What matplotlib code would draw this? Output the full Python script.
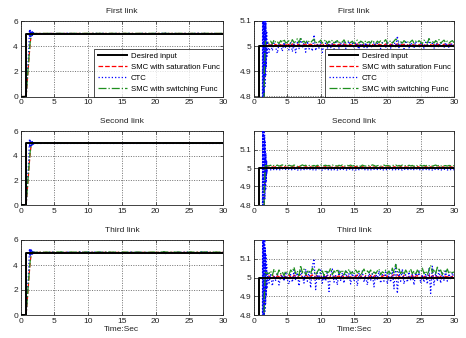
import numpy as np
import matplotlib
matplotlib.use("Agg")
import matplotlib.pyplot as plt

plt.rcParams['font.family'] = ['Liberation Sans', 'DejaVu Sans']

# ---------------- data ----------------
LINKS = ["First link", "Second link", "Third link"]
LEGEND = ["Desired input", "SMC with saturation Func", "CTC", "SMC with switching Func"]
XTICKS = [0, 5, 10, 15, 20, 25, 30]
LEFT_YTICKS = [0, 2, 4, 6]
RIGHT_YTICKS = [4.8, 4.9, 5.0, 5.1]
RIGHT_YTICKLABELS = ["4.8", "4.9", "5", "5.1"]
RIGHT_YTOP = [5.1, 5.2, 5.2]

desired_t = [0.0, 0.8, 0.8, 30.0]
desired_v = [0.0, 0.0, 5.0, 5.0]

# rise phase (time, value)
rise_t = [0.0, 0.8, 0.95, 1.1, 1.25, 1.4, 1.55, 1.7, 1.85, 2.0]
ctc_rise_t = [0.0, 0.8, 0.9, 1.0, 1.1, 1.2, 1.25, 1.3, 1.35, 1.4, 1.45,
              1.5, 1.55, 1.6, 1.65, 1.7, 1.75, 1.8, 1.85, 1.9, 1.95, 2.05]

sat_rise = [
    [0, 0, 1.0, 2.1, 3.2, 4.2, 4.85, 5.0, 5.01, 5.006],
    [0, 0, 1.0, 2.1, 3.2, 4.2, 4.85, 5.008, 5.006, 5.005],
    [0, 0, 1.0, 2.1, 3.2, 4.2, 4.85, 5.01, 5.008, 5.006],
]
sw_rise = [
    [0, 0, 1.1, 2.2, 3.3, 4.3, 4.9, 5.02, 5.015, 5.012],
    [0, 0, 1.1, 2.2, 3.3, 4.3, 4.9, 5.015, 5.012, 5.012],
    [0, 0, 1.1, 2.2, 3.3, 4.3, 4.9, 5.03, 5.02, 5.025],
]
ctc_rise = [
    [0, 0, 0.8, 1.8, 2.9, 3.8, 4.6, 5.3, 4.72, 5.26, 4.76, 5.22, 4.8, 5.18,
     4.84, 5.14, 4.88, 5.1, 4.92, 5.06, 4.96, 5.02],
    [0, 0, 0.8, 1.8, 2.9, 3.8, 4.6, 5.3, 4.74, 5.24, 4.78, 5.21, 4.8, 5.18,
     4.83, 5.14, 4.88, 5.08, 4.93, 5.04, 4.97, 5.0],
    [0, 0, 0.8, 1.8, 2.9, 3.8, 4.6, 5.3, 4.72, 5.28, 4.75, 5.24, 4.78, 5.2,
     4.82, 5.16, 4.86, 5.12, 4.9, 5.07, 4.94, 5.03],
]

# steady phase from t = 2.25 s, every 0.25 s: deviation from 5 in thousandths
ctc_dev = [
    [-25, 8, -18, 12, -5, -28, 10, 4, -20, 15, -8, 6,
     -15, 18, -22, 9, -26, 14, -10, 30, -6, 12, -24, 20,
     -12, 8, -20, 45, -18, 10, -8, 15, -25, 6, 12, -10,
     18, -6, 10, -12, 22, 4, -8, 14, -4, 16, -10, 8,
     20, -6, 12, -8, 15, 2, -12, 18, 6, -5, 14, -9,
     10, 4, -7, 16, -3, 12, 8, -10, 14, 2, -6, 18,
     5, -8, 12, 20, -4, 40, -6, 15, 8, -10, 22, 3,
     -7, 14, 6, -9, 18, 2, -5, 12, 10, -8, 16, 4,
     28, -6, 12, -10, 20, 6, -4, 15, 8, -7, 14, 3,
     -5, 12, 6, -3],
    [-7, -10, -5, -9, -12, -6, -8, -11, -4, -9, -7, -10,
     -6, -11, -8, -5, -9, -12, -7, -10, -6, -8, -11, -5,
     -9, -7, -12, -6, -10, -8, -4, -9, -11, -7, -5, -10,
     -8, -12, -6, -9, -7, -11, -5, -8, -10, -6, -9, -12,
     -7, -5, -10, -8, -11, -6, -9, -7, -4, -10, -8, -12,
     -6, -9, -11, -7, -5, -8, -10, -6, -12, -9, -7, -11,
     -5, -8, -10, -6, -9, -12, -7, -8, -11, -5, -9, -7,
     -10, -6, -12, -8, -9, -5, -11, -7, -10, -8, -6, -12,
     -9, -7, -11, -5, -8, -10, -6, -9, -12, -7, -8, -11,
     -6, -9, -7, -10],
    [-30, 20, -45, 10, -15, 25, -40, 5, 15, -20, 30, -10,
     -35, 15, -25, 40, -15, 25, -45, 35, 10, -30, 45, -20,
     30, -55, 60, 100, -65, 25, -10, 40, -30, 15, -20, 35,
     -75, 20, 45, -25, 10, -40, 35, -15, 25, -30, 40, -10,
     20, -35, 30, -20, 15, -45, 25, -10, 35, -25, 10, -40,
     30, -15, 20, -50, 25, -10, 35, -30, 15, -20, 30, -35,
     20, -25, 40, -60, 75, -85, 30, -20, 45, -35, 15, -25,
     30, -15, 20, -40, 25, -10, 35, -30, 15, -25, 20, -35,
     50, -85, 60, -40, 30, -20, 45, -30, 25, -15, 35, -20,
     20, -10, 25, -5],
]
sw_dev = [
    [12, 20, 8, 25, 15, 18, 10, 22, 14, 28, 12, 16,
     22, 10, 26, 14, 18, 30, 12, 35, 16, 20, 12, 24,
     18, 14, 22, 28, 10, 20, 16, 24, 12, 18, 26, 10,
     20, 14, 24, 12, 18, 22, 10, 20, 16, 25, 12, 18,
     22, 14, 20, 10, 18, 24, 12, 20, 16, 10, 22, 14,
     18, 12, 24, 16, 10, 20, 14, 22, 12, 18, 26, 10,
     16, 22, 12, 20, 28, 24, 14, 18, 12, 22, 16, 20,
     10, 18, 24, 12, 20, 14, 22, 16, 10, 24, 18, 12,
     30, 14, 20, 12, 22, 16, 26, 12, 18, 24, 14, 20,
     12, 18, 22, 14],
    [12, 15, 9, 14, 11, 16, 10, 13, 17, 11, 14, 9,
     15, 12, 10, 16, 13, 8, 14, 11, 17, 12, 15, 10,
     13, 16, 11, 14, 9, 15, 12, 17, 10, 13, 15, 11,
     14, 9, 16, 12, 13, 10, 15, 11, 17, 13, 9, 14,
     12, 16, 10, 13, 15, 11, 14, 8, 16, 12, 10, 15,
     13, 11, 17, 14, 9, 12, 15, 10, 13, 16, 11, 14,
     12, 9, 15, 13, 17, 10, 14, 11, 16, 12, 13, 10,
     15, 11, 14, 9, 16, 12, 13, 15, 10, 14, 11, 17,
     12, 15, 10, 13, 16, 11, 14, 9, 15, 12, 13, 10,
     14, 12, 15, 11],
    [20, 35, 10, 45, 25, 15, 40, 20, 30, 10, 35, 25,
     15, 40, 30, 55, 20, 35, 10, 65, 25, 45, 15, 30,
     40, 20, 50, 35, 15, 30, 45, 20, 35, 10, 40, 25,
     30, 50, 15, 35, 25, 45, 20, 30, 40, 15, 35, 25,
     45, 20, 30, 15, 40, 25, 35, 10, 30, 45, 20, 35,
     25, 40, 15, 30, 20, 35, 45, 15, 30, 25, 40, 20,
     35, 15, 50, 25, 70, 30, 45, 20, 35, 15, 40, 25,
     30, 45, 20, 35, 15, 40, 25, 30, 50, 20, 35, 15,
     40, 65, 25, 45, 20, 55, 30, 40, 15, 35, 25, 45,
     20, 35, 25, 30],
]
sat_dev = [
    [6, 3, 8, 4, 7, 2, 9, 5, 3, 8, 6, 4,
     7, 3, 9, 5, 4, 8, 6, 2, 7, 5, 9, 3,
     6, 8, 4, 7, 2, 6, 9, 5, 3, 7, 8, 4,
     6, 2, 9, 5, 7, 3, 8, 6, 4, 9, 5, 2,
     7, 6, 3, 8, 5, 9, 4, 6, 2, 7, 8, 5,
     3, 9, 6, 4, 7, 2, 8, 5, 6, 3, 9, 7,
     4, 8, 5, 2, 6, 9, 3, 7, 5, 8, 4, 6,
     2, 9, 7, 5, 3, 8, 6, 4, 7, 9, 2, 5,
     8, 6, 3, 7, 4, 9, 5, 6, 2, 8, 7, 3,
     6, 9, 4, 5],
    [5, 3, 6, 4, 7, 5, 2, 6, 4, 8, 5, 3,
     6, 4, 7, 5, 3, 6, 8, 4, 5, 2, 7, 5,
     4, 6, 3, 7, 5, 8, 4, 6, 2, 5, 7, 4,
     6, 3, 5, 8, 4, 6, 5, 2, 7, 4, 6, 5,
     3, 7, 5, 4, 8, 6, 3, 5, 7, 4, 6, 2,
     5, 7, 4, 6, 3, 8, 5, 4, 6, 7, 3, 5,
     6, 4, 2, 7, 5, 6, 4, 8, 3, 5, 6, 4,
     7, 5, 3, 6, 4, 8, 5, 2, 6, 4, 7, 5,
     3, 6, 5, 4, 7, 2, 6, 5, 8, 4, 3, 6,
     5, 7, 4, 6],
    [8, -3, 12, 4, -5, 10, 2, 15, -2, 9, 5, -4,
     11, 3, -6, 13, 6, -1, 10, 18, 2, -5, 12, 7,
     -3, 9, 14, -8, 16, 5, 1, 11, -4, 8, 3, 12,
     -7, 10, 6, -2, 13, 4, 9, -3, 11, 2, 7, -1,
     12, 5, -4, 9, 3, 14, -2, 8, 6, -5, 10, 4,
     1, 11, -3, 7, 13, 2, -6, 9, 5, 12, -2, 8,
     4, -1, 10, 15, -7, 16, 3, 9, -2, 11, 6, -4,
     8, 2, 12, -3, 7, 10, 1, -5, 13, 6, 4, -2,
     14, -8, 11, 3, 9, -1, 12, 5, -3, 8, 6, 2,
     10, -2, 7, 4],
]

STEADY_T0 = 2.25
STEADY_DT = 0.25

C_SAT = "#ff0000"
C_CTC = "#0000ff"
C_SW = "#1f8f1f"


def series(rt, rv, dev):
    t = np.concatenate([np.asarray(rt, float),
                        STEADY_T0 + STEADY_DT * np.arange(len(dev))])
    v = np.concatenate([np.asarray(rv, float), 5.0 + np.asarray(dev, float) / 1000.0])
    return t, v


fig = plt.figure(figsize=(4.66, 3.38), dpi=100)
W, H = 466.0, 338.0
rows_px = [(21, 96.5), (131, 205), (240, 315)]
cols_px = [(20.7, 223), (254, 454)]

for r in range(3):
    top, bot = rows_px[r]
    t_sat, v_sat = series(rise_t, sat_rise[r], sat_dev[r])
    t_ctc, v_ctc = series(ctc_rise_t, ctc_rise[r], ctc_dev[r])
    t_sw, v_sw = series(rise_t, sw_rise[r], sw_dev[r])
    for c in range(2):
        x0, x1 = cols_px[c]
        ax = fig.add_axes([x0 / W, (H - bot) / H, (x1 - x0) / W, (bot - top) / H])
        ax.plot(t_sat, v_sat, color=C_SAT, ls="--", lw=0.9, label=LEGEND[1], zorder=2)
        ax.plot(t_ctc, v_ctc, color=C_CTC, ls=":", lw=0.9, label=LEGEND[2], zorder=3)
        ax.plot(t_sw, v_sw, color=C_SW, ls="-.", lw=0.9, label=LEGEND[3], zorder=4)
        ax.plot(desired_t, desired_v, color="black", ls="-", lw=1.4, label=LEGEND[0], zorder=5)
        ax.set_xlim(0, 30)
        ax.set_xticks(XTICKS)
        if c == 0:
            ax.set_ylim(0, 6)
            ax.set_yticks(LEFT_YTICKS)
        else:
            ax.set_ylim(4.8, RIGHT_YTOP[r])
            ax.set_yticks(RIGHT_YTICKS)
            ax.set_yticklabels(RIGHT_YTICKLABELS)
        ax.grid(True, color="#444444", ls=(0, (1.5, 2.0)), lw=0.5)
        ax.tick_params(direction="in", length=2, width=0.5, labelsize=6, pad=2,
                       colors="#222222", top=True, right=True)
        for s in ax.spines.values():
            s.set_linewidth(0.6)
            s.set_color("#222222")
        ax.set_title(LINKS[r], fontsize=6, pad=6, color="#222222")
        if r == 2:
            ax.set_xlabel("Time:Sec", fontsize=6, labelpad=1, color="#222222")
        if r == 0:
            h, l = ax.get_legend_handles_labels()
            order = [3, 0, 1, 2]
            leg = ax.legend([h[i] for i in order], [l[i] for i in order],
                            loc="lower right", fontsize=5.6, borderaxespad=0,
                            frameon=True, fancybox=False, handlelength=3.8,
                            handletextpad=0.45, labelspacing=0.45,
                            borderpad=0.45)
            leg.get_frame().set_edgecolor("black")
            leg.get_frame().set_linewidth(0.6)
            leg.set_zorder(10)

fig.savefig("out.png", dpi=100)
